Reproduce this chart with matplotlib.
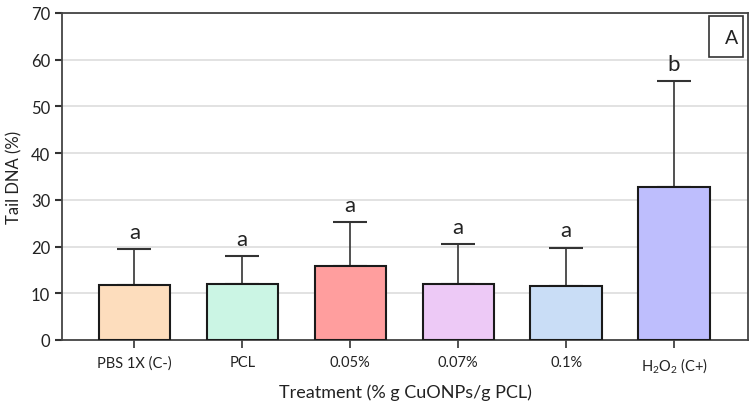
import matplotlib
matplotlib.use("Agg")
import matplotlib.pyplot as plt
from matplotlib.patches import Rectangle
import numpy as np

plt.rcParams['font.family'] = ['Lato', 'DejaVu Sans']
plt.rcParams['mathtext.default'] = 'regular'

# data
treatments = ['PBS 1X (C-)', 'PCL', '0.05%', '0.07%', '0.1%', r'H$_2$O$_2$ (C+)']
tail_dna = [11.8, 11.9, 15.8, 11.9, 11.6, 32.7]
sd = [7.7, 6.1, 9.5, 8.7, 8.2, 22.8]
letters = ['a', 'a', 'a', 'a', 'a', 'b']
colors = ['#FDDDBD', '#CBF5E4', '#FF9E9E', '#EDC9F6', '#C9DDF6', '#BEBEFD']

fig = plt.figure(figsize=(7.52, 4.10), dpi=100)
ax = fig.add_axes([62/752, 69/410, 686/752, 327/410])

x = np.arange(len(treatments))
ax.bar(x, tail_dna, width=0.66, color=colors, edgecolor='#1a1a1a', linewidth=1.5, zorder=3)
ax.errorbar(x, tail_dna, yerr=[np.zeros(len(sd)), sd], fmt='none', ecolor='#333333',
            elinewidth=1.2, capsize=12.5, capthick=1.5, zorder=2)

for xi, m, s, lab in zip(x, tail_dna, sd, letters):
    ax.text(xi, m + s + 1.5, lab, ha='center', va='bottom', fontsize=16, color='#222222')

ax.set_xlim(-0.67, 5.685)
ax.set_ylim(0, 70)
ax.set_yticks(range(0, 71, 10))
ax.set_xticks(x)
ax.set_xticklabels(treatments, fontsize=10.5)
ax.tick_params(axis='y', labelsize=12, length=5, width=1.5, direction='out', colors='#333333')
ax.tick_params(axis='x', length=6, width=1.2, direction='out', colors='#333333', pad=5)
for lbl in ax.get_xticklabels() + ax.get_yticklabels():
    lbl.set_color('#222222')

ax.yaxis.grid(True, color='#dddddd', linewidth=1.2, zorder=0)
ax.set_axisbelow(True)
for sp in ax.spines.values():
    sp.set_color('#444444')
    sp.set_linewidth(1.3)

ax.set_ylabel('Tail DNA (%)', fontsize=12, color='#222222', labelpad=6)
ax.set_xlabel('Treatment (% g CuONPs/g PCL)', fontsize=13, color='#222222', labelpad=7)

# panel label box
ax.add_patch(Rectangle((0.943, 0.866), 0.049, 0.125, transform=ax.transAxes,
                       facecolor='white', edgecolor='#333333', linewidth=1.2, zorder=5))
ax.text(0.985, 0.9, 'A', transform=ax.transAxes, ha='right', va='bottom', fontsize=14,
        color='#222222', zorder=6)

fig.savefig('out.png', dpi=100)
